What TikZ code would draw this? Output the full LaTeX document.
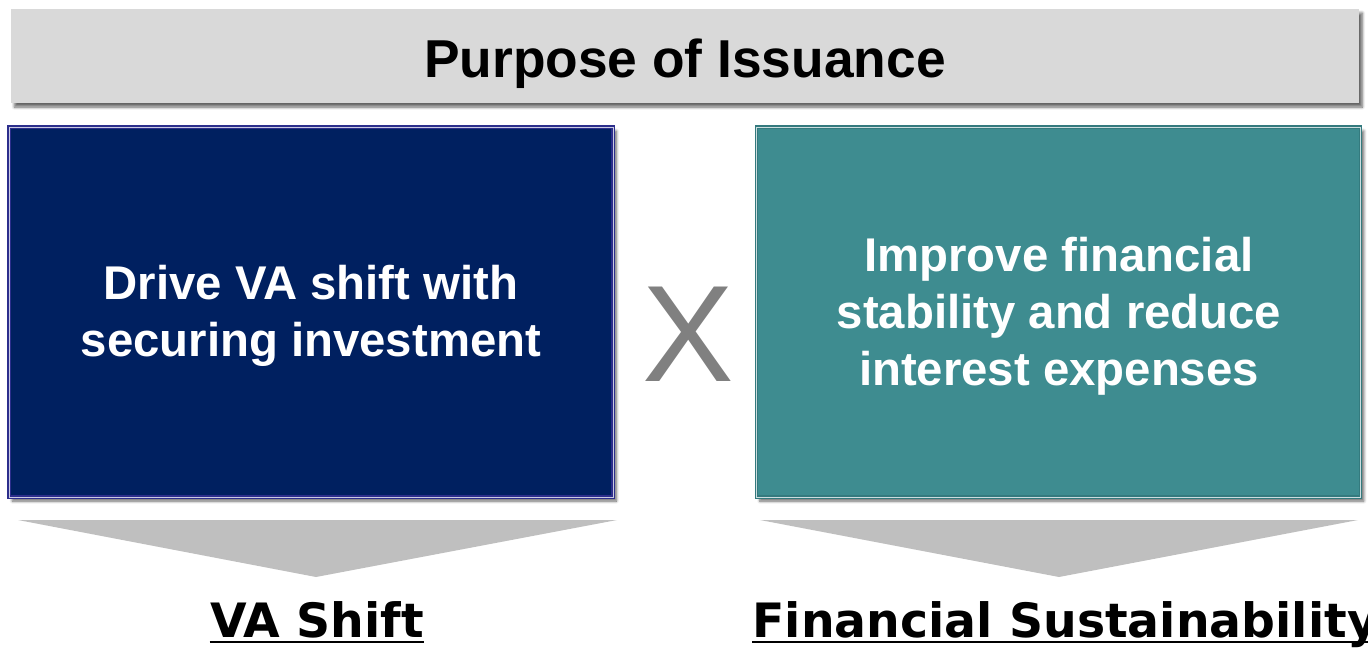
\documentclass[tikz,border=0pt]{standalone}
\usepackage{fontspec}
\setmainfont{Liberation Sans}
\newfontfamily\resultfont{DejaVu Sans}
\usetikzlibrary{shadows.blur,calc}

\definecolor{bannergray}{RGB}{217,217,217}
\definecolor{navyfill}{RGB}{0,32,96}
\definecolor{navyline}{RGB}{44,46,140}
\definecolor{tealfill}{RGB}{62,140,144}
\definecolor{tealline}{RGB}{52,122,126}
\definecolor{wedgegray}{RGB}{191,191,191}
\definecolor{xgray}{RGB}{128,128,128}

\tikzset{every picture/.style={line width=0.75pt},
  boxshadow/.style={blur shadow={shadow xshift=2.5pt,shadow yshift=-3pt,shadow blur steps=6,shadow opacity=60}},
  banner/.style={rectangle,fill=bannergray,boxshadow,minimum width=1011pt,minimum height=70.5pt,inner sep=0pt},
  panel/.style={rectangle,boxshadow,minimum width=453pt,minimum height=277.5pt,inner sep=0pt,
    line width=0.9pt,double=white!75!#1,double distance=0.6pt,draw=#1},
  paneltext/.style={text=white,align=center,font=\bfseries\fontsize{35.5}{42.75}\selectfont,inner sep=0pt},
  wedge/.style={fill=wedgegray,draw=none},
  result/.style={anchor=base,inner sep=0pt,font=\resultfont\bfseries\fontsize{35.5}{42}\selectfont},
  underline/.style={line width=1.6pt}}

\begin{document}
\begin{tikzpicture}[x=0.75pt,y=0.75pt,yscale=-1]
        \useasboundingbox (0,0) rectangle (1368,647);

        % banner
        \node [banner] (banner) at (685,56) {};
        \node [anchor=base,inner sep=0pt,font=\bfseries\fontsize{40}{48}\selectfont] (title) at (685,77) {Purpose of Issuance};

        % two panels
        \node [panel=navyline,fill=navyfill] (left) at (311,312) {};
        \node [panel=tealline,fill=tealfill] (right) at (1058.5,312) {};
        \node [paneltext] (lefttext) at (311,316) {Drive VA shift with\\securing investment};
        \node [paneltext] (righttext) at (1059,316) {Improve financial\\stability and reduce\\interest expenses};

        % cross sign
        \node [text=xgray,inner sep=0pt,font=\fontsize{103}{110}\selectfont] (cross) at (688,334) {X};

        % wedges
        \fill [wedge] (18,520) -- (617,520) -- (316,577) -- cycle;
        \fill [wedge] (760,520) -- (1358,520) -- (1059,577) -- cycle;

        % results
        \node [result] (vashift) at (317,637) {VA Shift};
        \node [result,anchor=base west] (finsus) at (752,637) {Financial Sustainability};
        \draw [underline] ($(vashift.base west)+(0,5)$) -- ($(vashift.base east)+(0,5)$);
        \draw [underline] ($(finsus.base west)+(0,5)$) -- ($(finsus.base east)+(0,5)$);

\end{tikzpicture}
\end{document}
